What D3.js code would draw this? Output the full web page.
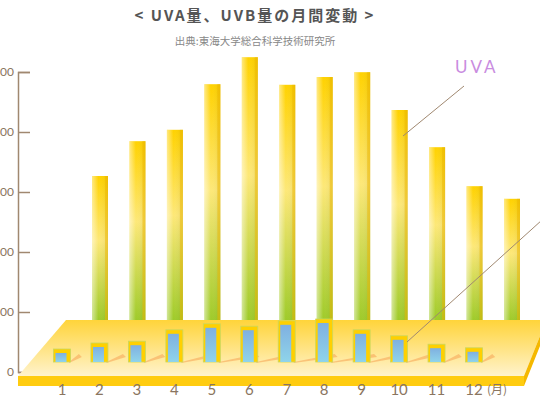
<!DOCTYPE html>
<html><head><meta charset="utf-8">
<script src="https://cdn.jsdelivr.net/npm/d3@7"></script>
<style>body{margin:0;background:#fff}svg{display:block}</style>
</head><body><div id="chart"></div>
<script>
const months = [1,2,3,4,5,6,7,8,9,10,11,12];
const uva = [240, 298, 317, 393, 438, 392, 405, 413, 350, 288, 223, 202];
const uvb = [15, 25, 28, 47, 57, 53, 62, 65, 47, 37, 23, 17];
const yTicks = [0, 100, 200, 300, 400, 500];

const W = 540, H = 400;
const svg = d3.select('#chart').append('svg').attr('width', W).attr('height', H)
  .style('font-family', '"Noto Sans CJK JP", sans-serif');

const x = d3.scalePoint().domain(months).range([62, 474]);
const y = d3.scaleLinear().domain([0, 500]).range([372, 72]);
const backShift = 38, backBase = 320, frontBase = 362;
const h = v => y(0) - y(v);

const defs = svg.append('defs');
const gA = defs.append('linearGradient').attr('id', 'ga').attr('x1', 0).attr('x2', 0).attr('y1', 0).attr('y2', 1);
[[0, '#ffd200'], [0.45, '#fde878'], [1, '#9fcb2a']].forEach(s => gA.append('stop').attr('offset', s[0]).attr('stop-color', s[1]));
const gAs = defs.append('linearGradient').attr('id', 'gas').attr('x1', 0).attr('x2', 1);
[[0, 'rgba(255,255,255,0.5)'], [0.4, 'rgba(255,255,255,0)'], [1, 'rgba(0,0,0,0.08)']].forEach(s => gAs.append('stop').attr('offset', s[0]).attr('stop-color', s[1]));
const gB = defs.append('linearGradient').attr('id', 'gb').attr('x1', 0).attr('x2', 0).attr('y1', 0).attr('y2', 1);
[[0, '#7fb0e0'], [1, '#8fd4ea']].forEach(s => gB.append('stop').attr('offset', s[0]).attr('stop-color', s[1]));
const gP = defs.append('linearGradient').attr('id', 'gp').attr('x1', 0).attr('x2', 0).attr('y1', 0).attr('y2', 1);
[[0, '#ffd43a'], [1, '#fff3cc']].forEach(s => gP.append('stop').attr('offset', s[0]).attr('stop-color', s[1]));

// title
svg.append('text').attr('x', 255).attr('y', 21).attr('text-anchor', 'middle')
  .attr('font-size', 15).attr('font-weight', 'bold').attr('fill', '#555').attr('letter-spacing', 2)
  .text('< UVA量、UVB量の月間変動 >');
svg.append('text').attr('x', 255).attr('y', 45).attr('text-anchor', 'middle')
  .attr('font-size', 10.5).attr('fill', '#888').text('出典:東海大学総合科学技術研究所');

// y axis
const ax = svg.append('g').attr('transform', 'translate(18,0)')
  .call(d3.axisLeft(y).tickValues(yTicks).tickSize(-12).tickPadding(4).tickFormat(d => d));
ax.select('.domain').attr('stroke', '#a08870').attr('stroke-width', 1.5);
ax.selectAll('.tick line').attr('stroke', '#a08870').attr('stroke-width', 1.5);
ax.selectAll('.tick text').attr('fill', '#8a7560').attr('font-size', 12).attr('font-family', 'Lato, sans-serif');

// UVA back bars
const bw = 16;
const back = svg.append('g').selectAll('g').data(months).join('g');
back.append('rect').attr('x', (d, i) => x(d) + backShift - bw / 2).attr('y', (d, i) => backBase - h(uva[i]))
  .attr('width', bw).attr('height', (d, i) => h(uva[i])).attr('fill', 'url(#ga)');
back.append('rect').attr('x', (d, i) => x(d) + backShift - bw / 2).attr('y', (d, i) => backBase - h(uva[i]))
  .attr('width', bw).attr('height', (d, i) => h(uva[i])).attr('fill', 'url(#gas)');
back.append('rect').attr('x', (d, i) => x(d) + backShift + bw / 2 - 3).attr('y', (d, i) => backBase - h(uva[i]))
  .attr('width', 3).attr('height', (d, i) => h(uva[i])).attr('fill', '#f0b800').attr('opacity', 0.5);

// platform
svg.append('path').attr('d', 'M66,320 L540,320 L540,336 L524,376 L18,376 Z').attr('fill', 'url(#gp)');
svg.append('path').attr('d', 'M18,376 L524,376 L524,386 L18,386 Z').attr('fill', '#ffcc10');
svg.append('path').attr('d', 'M524,376 L540,336 L540,346 L524,386 Z').attr('fill', '#f5b800');

// shadows of front bars
svg.append('g').selectAll('path').data(months).join('path')
  .attr('d', (d, i) => `M${x(d) + 7},${frontBase} L${x(d) + 7 + h(uvb[i]) * 1.1},${frontBase - 8} L${x(d) + 10 + h(uvb[i]) * 1.1},${frontBase - 5} L${x(d) + 7},${frontBase + 1} Z`)
  .attr('fill', '#f7a85a').attr('opacity', 0.6);

// UVB front bars
const fw = 15;
const front = svg.append('g').selectAll('g').data(months).join('g');
front.append('rect').attr('x', d => x(d) - fw / 2 - 1).attr('y', (d, i) => frontBase - h(uvb[i]) - 4)
  .attr('width', fw + 2).attr('height', (d, i) => h(uvb[i]) + 4).attr('fill', '#ffd000').attr('stroke', '#c8d860').attr('stroke-width', 0.8);
front.append('rect').attr('x', d => x(d) - fw / 2 + 1).attr('y', (d, i) => frontBase - h(uvb[i]))
  .attr('width', fw - 4).attr('height', (d, i) => h(uvb[i])).attr('fill', 'url(#gb)');

// month labels
svg.append('g').selectAll('text').data(months).join('text')
  .attr('x', d => x(d)).attr('y', 395).attr('text-anchor', 'middle')
  .attr('font-size', 15).attr('fill', '#8a7560').attr('font-family', 'Lato, sans-serif').text(d => d);
svg.append('text').attr('x', 487).attr('y', 394).attr('font-size', 12).attr('fill', '#8a7560').text('(月)');

// annotations
svg.append('text').attr('x', 455).attr('y', 73).attr('font-size', 17).attr('fill', '#c98ce0')
  .attr('letter-spacing', 3).attr('font-family', 'Lato, sans-serif').text('UVA');
svg.append('line').attr('x1', 464).attr('y1', 86).attr('x2', 403).attr('y2', 136).attr('stroke', '#a08870');
svg.append('line').attr('x1', 542).attr('y1', 220).attr('x2', 407).attr('y2', 342).attr('stroke', '#a08870');
</script></body></html>
